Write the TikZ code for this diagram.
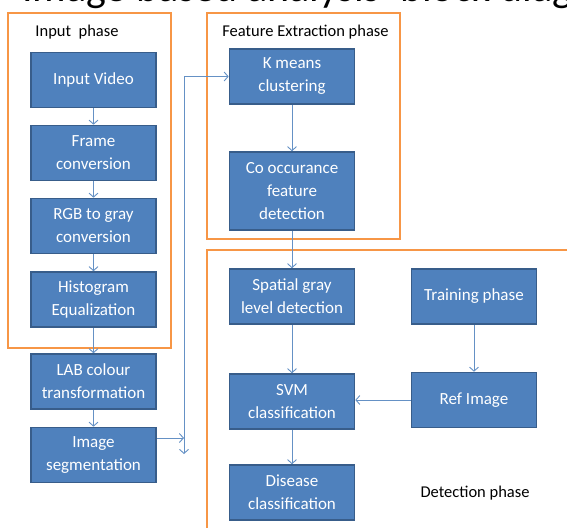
\documentclass[tikz,border=0pt]{standalone}
\usepackage{fontspec}
\setmainfont{Carlito}
\usetikzlibrary{arrows.meta,positioning}
\definecolor{boxblue}{HTML}{4F81BD}
\definecolor{boxedge}{HTML}{385D8A}
\definecolor{arrblue}{HTML}{4A7EBB}
\definecolor{phaseorange}{HTML}{F79646}

\begin{document}
\begin{tikzpicture}[x=1pt,y=-1pt,
  >={Straight Barb[length=4pt,width=9pt]},
  block/.style={draw=boxedge, line width=1.6pt, fill=boxblue, text=white,
    minimum width=125pt, minimum height=55pt, inner sep=2pt, align=center,
    font=\fontsize{17}{23}\selectfont},
  flow/.style={draw=arrblue!85, line width=0.9pt, ->},
  phase/.style={draw=phaseorange, line width=2pt},
  phaselabel/.style={inner sep=0pt, font=\fontsize{16.5}{20}\selectfont}]

\useasboundingbox (0,0) rectangle (567,527);
\clip (0,0) rectangle (567,527);

% title, cut off at the top
\node[anchor=base west, inner sep=0pt, font=\fontsize{42}{50}\selectfont] (title) at (22,2) {Image based analysis' block diagram};

% phase frames
\draw[phase] (8,13) rectangle (171,348);
\draw[phase] (207,13) rectangle (400,239);
\draw[phase] (207,250) rectangle (600,560);
\node[phaselabel] (inlbl) at (77,32) {Input~~phase};
\node[phaselabel] (felbl) at (305.5,32) {Feature Extraction phase};
\node[phaselabel] (delbl) at (475,493) {Detection phase};

% input column
\foreach \nm/\yc/\txt in {invid/80/{Input Video},
    frame/153/{Frame\\conversion},
    rgb/226/{RGB to gray\\conversion},
    hist/299.5/{Histogram\\Equalization},
    lab/381.5/{LAB colour\\transformation},
    seg/455/{Image\\segmentation}}
  \node[block] (\nm) at (93.5,\yc) {\txt};

% feature and detection column
\node[block] (kmeans) at (292,76.5) {K means\\clustering};
\node[block, minimum height=78pt] (cooc) at (292,191) {Co occurance\\feature\\detection};
\node[block] (spatial) at (292,296.5) {Spatial gray\\level detection};
\node[block] (svm) at (292,401.5) {SVM\\classification};
\node[block] (disease) at (292,492.5) {Disease\\classification};

% training side
\node[block] (train) at (474,296.5) {Training phase};
\node[block] (refimg) at (474,400) {Ref Image};

% connectors
\foreach \a/\b in {invid/frame, frame/rgb, rgb/hist, hist/lab, lab/seg,
    kmeans/cooc, cooc/spatial, spatial/svm, svm/disease, train/refimg}
  \draw[flow] (\a) -- (\b);
\draw[flow] (refimg.west) -- (refimg.west -| svm.east);

\coordinate (jn) at (184,438);
\coordinate (jnend) at (184,454);
\draw[flow] (seg.east |- jn) -- (jn);
\draw[flow, <->] (jnend) |- (kmeans.west);

\end{tikzpicture}
\end{document}
